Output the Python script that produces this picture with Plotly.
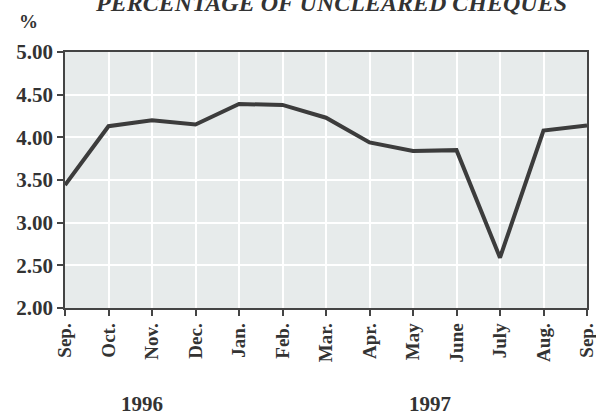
import plotly.graph_objects as go

months = ["Sep.", "Oct.", "Nov.", "Dec.", "Jan.", "Feb.", "Mar.", "Apr.",
          "May", "June", "July", "Aug.", "Sep."]
values = [3.44, 4.13, 4.20, 4.15, 4.39, 4.38, 4.23, 3.94, 3.84, 3.85, 2.59, 4.08, 4.14]
y_ticks = [2.0, 2.5, 3.0, 3.5, 4.0, 4.5, 5.0]
y_labels = ["2.00", "2.50", "3.00", "3.50", "4.00", "4.50", "5.00"]
years = ["1996", "1997"]
year_pos = [1.77, 8.39]
title = "PERCENTAGE OF UNCLEARED CHEQUES"

FONT = "Liberation Serif, Times New Roman, serif"
xs = list(range(len(months)))

fig = go.Figure()
fig.add_trace(go.Scatter(x=xs, y=values, mode="lines",
                         line=dict(color="#3c3c3c", width=4),
                         hoverinfo="skip", showlegend=False))

fig.update_layout(
    width=596, height=414,
    margin=dict(l=65, r=9, t=52, b=106, autoexpand=False),
    paper_bgcolor="white",
    plot_bgcolor="#e7ebeb",
    font=dict(family=FONT, color="#333333"),
    xaxis=dict(range=[0, 12], tickvals=xs, ticktext=months, tickangle=-90,
               showgrid=True, gridcolor="white", gridwidth=2,
               ticks="outside", ticklen=6, tickwidth=1.5, tickcolor="#444",
               showline=True, linecolor="#444", linewidth=1.5, mirror=True,
               tickfont=dict(size=19, family=FONT, color="#333", weight="bold"),
               ticklabeloverflow="allow",
               zeroline=False, fixedrange=True, automargin=False),
    yaxis=dict(range=[2, 5], tickvals=y_ticks, ticktext=y_labels,
               showgrid=True, gridcolor="white", gridwidth=2,
               ticks="outside", ticklen=6, tickwidth=1.5, tickcolor="#444",
               showline=True, linecolor="#444", linewidth=1.5, mirror=True,
               tickfont=dict(size=21, family=FONT, color="#333", weight="bold"),
               ticklabeloverflow="allow",
               zeroline=False, fixedrange=True, automargin=False),
)

annotations = [
    dict(text="<b><i>" + title + "</i></b>", xref="paper", yref="paper",
         x=0.51, y=1.19, xanchor="center", yanchor="middle", showarrow=False,
         font=dict(size=24, family=FONT, color="#333")),
    dict(text="<b>%</b>", xref="paper", yref="paper", x=-0.069, y=1.12,
         xanchor="center", yanchor="middle", showarrow=False,
         font=dict(size=19, family=FONT, color="#333")),
]
for yr, pos in zip(years, year_pos):
    annotations.append(dict(text="<b>" + yr + "</b>", xref="x", yref="paper",
                            x=pos, y=-0.375, xanchor="center", yanchor="middle",
                            showarrow=False,
                            font=dict(size=21, family=FONT, color="#333")))
fig.update_layout(annotations=annotations)

fig.write_html("out.html", config={"displayModeBar": False},
               post_script="document.body.style.margin='0';")
